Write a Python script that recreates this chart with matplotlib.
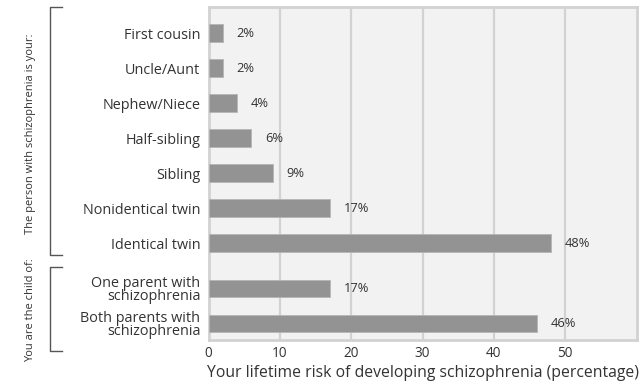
import matplotlib
matplotlib.use("Agg")
import matplotlib.pyplot as plt
from matplotlib.lines import Line2D

plt.rcParams['font.family'] = ['Open Sans', 'DejaVu Sans']

# data
relatives = ['First cousin', 'Uncle/Aunt', 'Nephew/Niece', 'Half-sibling',
             'Sibling', 'Nonidentical twin', 'Identical twin']
relative_risk = [2, 2, 4, 6, 9, 17, 48]
parents = ['One parent with\nschizophrenia', 'Both parents with\nschizophrenia']
parent_risk = [17, 46]
x_ticks = [0, 10, 20, 30, 40, 50]

labels = relatives + parents
values = relative_risk + parent_risk
# second group sits a bit further down
ypos = list(range(len(relatives))) + [len(relatives) + 0.3, len(relatives) + 1.3]

txt = '#333333'
fig = plt.figure(figsize=(6.39, 3.87), dpi=100)
ax = fig.add_axes([208.6 / 639, 1 - 340 / 387, 428 / 639, 333 / 387])
ax.set_facecolor('#f2f2f2')

ax.barh(ypos, values, height=0.49, color='#939393', edgecolor='#b5b5b5', linewidth=0.6, zorder=3)
for y, v in zip(ypos, values):
    ax.text(v + 1.9, y, f'{v}%', va='center', ha='left', fontsize=9.3, color=txt)

ax.set_xlim(0, 60)
ax.set_ylim(8.77, -0.743)
ax.set_xticks(x_ticks)
ax.set_xticklabels([str(t) for t in x_ticks], fontsize=9.8, color=txt)
ax.set_yticks(ypos)
ax.set_yticklabels(labels, fontsize=10.4, color=txt, linespacing=0.9)
ax.tick_params(axis='both', length=0, pad=6)
ax.tick_params(axis='x', pad=4)
ax.grid(axis='x', color='#d2d2d2', linewidth=1.6, zorder=1)
ax.set_axisbelow(True)
for s in ax.spines.values():
    s.set_color('#d2d2d2')
    s.set_linewidth(2)
ax.set_xlabel('Your lifetime risk of developing schizophrenia (percentage)',
              fontsize=11.3, color=txt, labelpad=3)

# group brackets on the left
W, H = 639, 387
def bracket(top, bottom):
    xs = [62 / W, 50 / W, 50 / W, 62 / W]
    ys = [1 - top / H, 1 - top / H, 1 - bottom / H, 1 - bottom / H]
    fig.add_artist(Line2D(xs, ys, color='#555555', linewidth=1.0))

bracket(7, 255)
bracket(267, 351)
fig.text(31 / W, 1 - 134 / H, 'The person with schizophrenia is your:', rotation=90,
         ha='center', va='center', fontsize=8.0, color=txt)
fig.text(31 / W, 1 - 310 / H, 'You are the child of:', rotation=90,
         ha='center', va='center', fontsize=8.0, color=txt)

fig.savefig('out.png', dpi=100)
